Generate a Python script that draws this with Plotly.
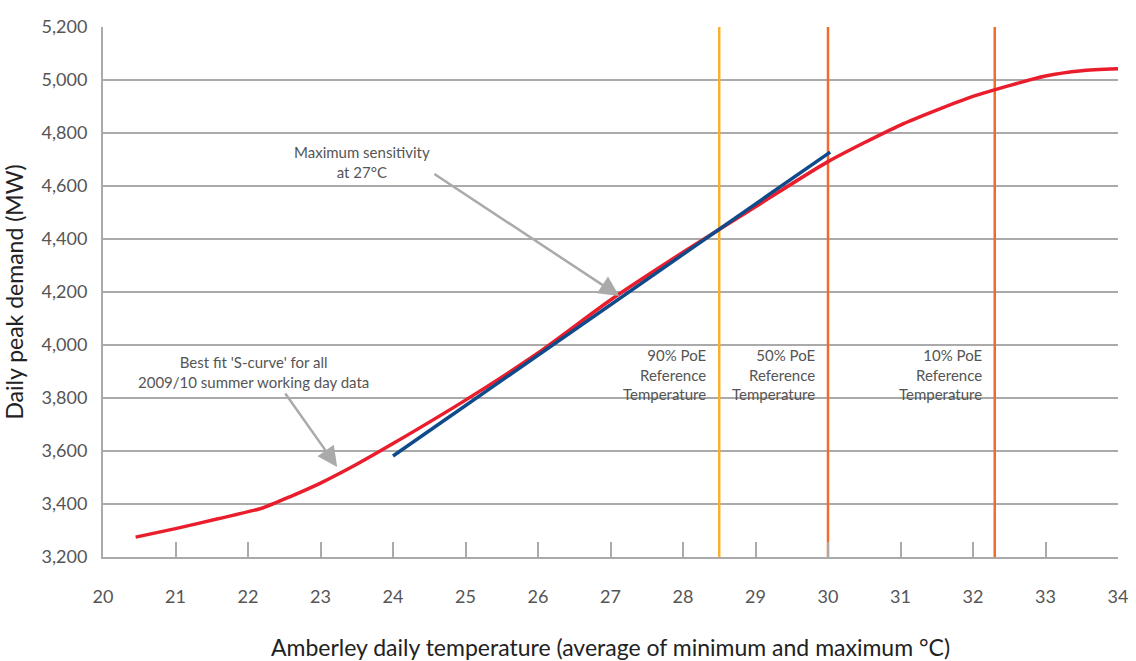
import plotly.graph_objects as go

# Data
curve_x = [20.45, 21.0, 21.6, 22.2, 22.6, 23.0, 23.5, 24.0, 25.0, 26.0, 27.0, 28.0, 29.0, 30.0, 31.0, 32.0, 33.0, 33.5, 34.0]
curve_y = [3275, 3307, 3345, 3385, 3430, 3479, 3550, 3628, 3792, 3970, 4170, 4350, 4522, 4692, 4830, 4938, 5015, 5035, 5042]

tangent_x = [24.0, 30.03]
tangent_y = [3581, 4728]

poe_x = [28.5, 30.0, 32.3]
poe_colors = ["#f9b02e", "#f26b2b", "#f26b2b"]
poe_labels = ["90% PoE<br>Reference<br>Temperature",
              "50% PoE<br>Reference<br>Temperature",
              "10% PoE<br>Reference<br>Temperature"]

x_ticks = list(range(20, 35))
y_ticks = list(range(3200, 5201, 200))

FONT = "Lato"
fig = go.Figure()

for xv, col in zip(poe_x, poe_colors):
    fig.add_trace(go.Scatter(x=[xv, xv], y=[3200, 5200], mode="lines",
                             line=dict(color=col, width=2.5), showlegend=False, hoverinfo="skip"))

fig.add_trace(go.Scatter(x=curve_x, y=curve_y, mode="lines",
                         line=dict(color="#ea1d2c", width=3.5, shape="spline", smoothing=0.6),
                         showlegend=False))
fig.add_trace(go.Scatter(x=tangent_x, y=tangent_y, mode="lines",
                         line=dict(color="#0f4a8a", width=3.5), showlegend=False))

for xv, txt in zip(poe_x, poe_labels):
    fig.add_annotation(x=xv, y=4003, xref="x", yref="y", text=txt, showarrow=False,
                       xanchor="right", yanchor="top", align="right", xshift=-11,
                       font=dict(family=FONT, size=15, color="#555555"))

# arrows
fig.add_annotation(x=27.12, y=4185, ax=24.55, ay=4649, xref="x", yref="y", axref="x", ayref="y",
                   text="", showarrow=True, arrowhead=2, arrowsize=1.6, arrowwidth=2.5,
                   arrowcolor="#aaaaaa")
fig.add_annotation(x=23.23, y=3540, ax=22.5, ay=3823, xref="x", yref="y", axref="x", ayref="y",
                   text="", showarrow=True, arrowhead=2, arrowsize=1.6, arrowwidth=2.5,
                   arrowcolor="#aaaaaa")
fig.add_annotation(x=23.57, y=4691, xref="x", yref="y", text="Maximum sensitivity<br>at 27°C",
                   showarrow=False, xanchor="center", yanchor="middle", align="center",
                   font=dict(family=FONT, size=15, color="#555555"))
fig.add_annotation(x=22.07, y=3898, xref="x", yref="y",
                   text="Best fit 'S-curve' for all<br>2009/10 summer working day data",
                   showarrow=False, xanchor="center", yanchor="middle", align="center",
                   font=dict(family=FONT, size=15, color="#555555"))

fig.update_layout(
    width=1136, height=661,
    margin=dict(l=103, r=18, t=27, b=104),
    plot_bgcolor="white", paper_bgcolor="white",
    font=dict(family=FONT, color="#555555"),
)
fig.update_xaxes(range=[20, 34], tickvals=x_ticks, ticktext=[str(v) for v in x_ticks],
                 automargin=False,
                 showgrid=False, zeroline=False, showline=True, linecolor="#aaaaaa", linewidth=2,
                 ticks="inside", ticklen=15, tickwidth=1.5, tickcolor="#aaaaaa",
                 ticklabelstandoff=22,
                 tickfont=dict(family=FONT, size=18, color="#555555"),
                 title=dict(text="Amberley daily temperature (average of minimum and maximum °C)",
                            font=dict(family=FONT, size=23, color="#222222"), standoff=38))
fig.update_yaxes(range=[3200, 5200], tickvals=y_ticks, tickformat=",",
                 automargin=False,
                 showgrid=True, gridcolor="#aaaaaa", gridwidth=1.5, zeroline=False,
                 showline=True, linecolor="#aaaaaa", linewidth=2, ticks="",
                 ticklabelstandoff=10,
                 tickfont=dict(family=FONT, size=18, color="#555555"),
                 title=dict(text="Daily peak demand (MW)",
                            font=dict(family=FONT, size=23, color="#222222"), standoff=12))

fig.write_html("out.html")
